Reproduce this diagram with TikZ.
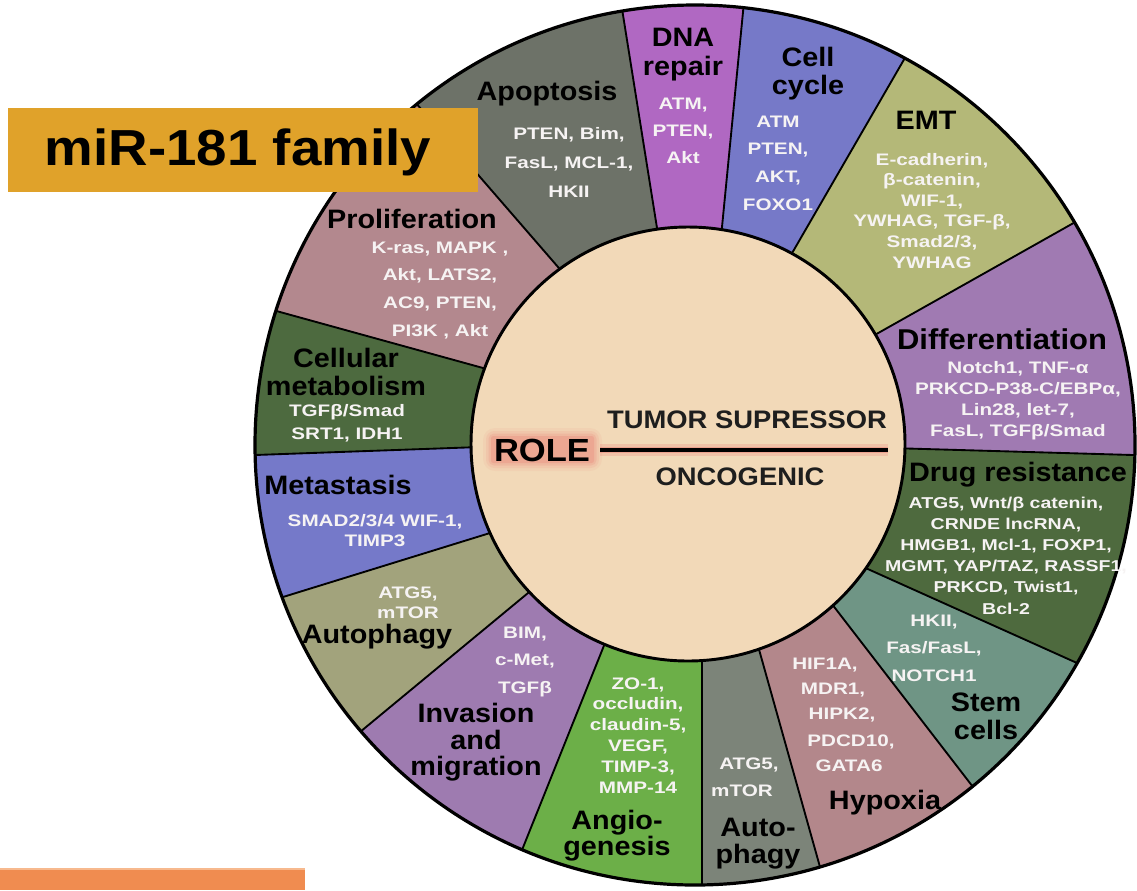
\documentclass[tikz,border=0pt]{standalone}
\usepackage{fontspec}
\setmainfont{Liberation Sans}
\newfontfamily\wf{Liberation Sans}[FakeStretch=1.24]
\newfontfamily\tf{Liberation Sans}[FakeStretch=1.08]
\usetikzlibrary{calc}
\definecolor{cApo}{HTML}{6D7268}
\definecolor{cDNA}{HTML}{B068C2}
\definecolor{cCell}{HTML}{7679C8}
\definecolor{cEMT}{HTML}{B4B878}
\definecolor{cDiff}{HTML}{A07AB2}
\definecolor{cDrug}{HTML}{4E6A3E}
\definecolor{cStem}{HTML}{6F9585}
\definecolor{cHyp}{HTML}{B3878B}
\definecolor{cAutB}{HTML}{7C8479}
\definecolor{cAng}{HTML}{6CAF48}
\definecolor{cInv}{HTML}{9E7BB0}
\definecolor{cAutL}{HTML}{A2A37C}
\definecolor{cMet}{HTML}{7579C9}
\definecolor{cCmet}{HTML}{4D6A3F}
\definecolor{cProl}{HTML}{B3888E}
\definecolor{cIn}{HTML}{F2D9B8}
\definecolor{cGold}{HTML}{E0A22A}
\definecolor{cOrange}{HTML}{F08C50}
\definecolor{cOrangeL}{HTML}{F7B98E}
\definecolor{glowred}{HTML}{E85A5A}
\definecolor{dark}{HTML}{1E1E1E}
\definecolor{gwhite}{HTML}{F6F3F3}
\newcommand\gfont{\wf\bfseries\fontsize{12.5}{14}\selectfont}
\newcommand\glines[6]{\foreach \gtext [count=\k from 0] in {#6}{\node[#2,anchor=base] (#1\k) at (#3,{#4+\k*#5}) {\gtext};}}
\newcommand\sect[3]{\fill[#1] (ci) -- ($(o#2)!1.08!(i#2)$) -- ($(i#2)!1.6!(o#2)$) -- ($(i#3)!1.6!(o#3)$) -- ($(o#3)!1.08!(i#3)$) -- cycle;}
\begin{document}
\begin{tikzpicture}[x=0.75pt,y=-0.75pt,
  gene/.style={text=gwhite, inner sep=0pt, font=\gfont},
  genesm/.style={text=gwhite, inner sep=0pt, font=\wf\bfseries\fontsize{11.8}{14}\selectfont},
  ttl/.style={text=black, inner sep=0pt, font=\tf\bfseries\fontsize{20}{24}\selectfont},
  ttlbig/.style={text=black, inner sep=0pt, font=\tf\bfseries\fontsize{21.5}{24}\selectfont},
  ctr/.style={text=dark, inner sep=0pt, font=\tf\bfseries\fontsize{19}{22}\selectfont},
  rolef/.style={inner sep=0pt, font=\tf\bfseries\fontsize{24}{28}\selectfont},
  bline/.style={black, line width=1.4pt}]
\fill[white] (0,0) rectangle (1137,890);
\useasboundingbox (0,0) rectangle (1137,890);
% geometry
\coordinate (C) at (695,445);
\coordinate (ci) at (688,444);
\coordinate (i1) at (657,228);  \coordinate (o1) at (623,15);
\coordinate (i2) at (722,227);  \coordinate (o2) at (743,12);
\coordinate (i3) at (795,248);  \coordinate (o3) at (902,63);
\coordinate (i4) at (880,332);  \coordinate (o4) at (1070,225);
\coordinate (i5) at (890,448);  \coordinate (o5) at (1133,455);
\coordinate (i6) at (870,570);  \coordinate (o6) at (1077,663);
\coordinate (i7) at (835,608);  \coordinate (o7) at (973,787);
\coordinate (i8) at (760,653);  \coordinate (o8) at (820,867);
\coordinate (i9) at (702,660);  \coordinate (o9) at (702,885);
\coordinate (i10) at (603,648); \coordinate (o10) at (522,850);
\coordinate (i11) at (528,593); \coordinate (o11) at (360,732);
\coordinate (i12) at (490,533); \coordinate (o12) at (283,597);
\coordinate (i13) at (480,447); \coordinate (o13) at (255,455);
\coordinate (i14) at (483,368); \coordinate (o14) at (280,312);
\coordinate (i15) at (558,267); \coordinate (o15) at (415,102);
\begin{scope}
  \clip (C) circle[radius=440];
  \sect{cDNA}{1}{2}
  \sect{cCell}{2}{3}
  \sect{cEMT}{3}{4}
  \sect{cDiff}{4}{5}
  \sect{cDrug}{5}{6}
  \sect{cStem}{6}{7}
  \sect{cHyp}{7}{8}
  \sect{cAutB}{8}{9}
  \sect{cAng}{9}{10}
  \sect{cInv}{10}{11}
  \sect{cAutL}{11}{12}
  \sect{cMet}{12}{13}
  \sect{cCmet}{13}{14}
  \sect{cProl}{14}{15}
  \sect{cApo}{15}{1}
  \foreach \n in {1,...,15}{\draw[bline] ($(o\n)!1.08!(i\n)$) -- ($(i\n)!1.3!(o\n)$);}
\end{scope}
\draw[black, line width=2.4pt] (C) circle[radius=440];
\filldraw[fill=cIn, draw=black, line width=2.2pt] (ci) circle[radius=217];
% centre: glow behind ROLE and the dividing line
\foreach \g/\o in {10/.06,7/.09,4.5/.13,2/.18}{
  \fill[glowred, opacity=\o, rounded corners=\g*0.9pt] ({493-\g},{438-\g}) rectangle ({592+\g},{461+\g});}
\coordinate (ls) at (600,450);
\coordinate (le) at (888,450);
\draw[glowred, opacity=.18, line width=9pt] (ls) -- (le);
\draw[glowred, opacity=.3, line width=5pt] (ls) -- (le);
\draw[black, line width=2.3pt] (ls) -- (le);
\node[rolef, text=black, anchor=base] (role) at (542,461) {ROLE};
\node[ctr, anchor=base] (tum) at (747,428) {TUMOR SUPRESSOR};
\node[ctr, anchor=base] (onc) at (740,485) {ONCOGENIC};
% sector titles
\glines{tApo}{ttl}{547}{100.5}{29}{Apoptosis}
\glines{tDNA}{ttl}{683}{46.5}{29}{DNA,repair}
\glines{tCell}{ttl}{808}{66.5}{28}{Cell,cycle}
\glines{tEMT}{ttl}{926}{129.5}{28}{EMT}
\glines{tDiff}{ttlbig}{1002}{349.5}{28}{Differentiation}
\glines{tDrug}{ttl}{1018}{481.5}{28}{Drug resistance}
\glines{tStem}{ttl}{986}{711.5}{28}{Stem,cells}
\glines{tHyp}{ttl}{885}{809.5}{28}{Hypoxia}
\glines{tAutB}{ttl}{758}{836}{27}{Auto-,phagy}
\glines{tAng}{ttl}{617}{829}{26.5}{Angio-,genesis}
\glines{tInv}{ttl}{476}{722.5}{26.5}{Invasion,and,migration}
\glines{tAutL}{ttl}{377}{643}{28}{Autophagy}
\glines{tMet}{ttl}{338}{494}{28}{Metastasis}
\glines{tCmet}{ttl}{346}{367}{28.5}{Cellular,metabolism}
\glines{tProl}{ttl}{412}{228}{28}{Proliferation}
% gene lists
\glines{gApo}{gene}{569}{139}{29}{{PTEN, Bim,},{FasL, MCL-1,},{HKII}}
\glines{gDNA}{gene}{683}{109}{27}{{ATM,},{PTEN,},{Akt}}
\glines{gCell}{gene}{778}{127}{27.7}{{ATM},{PTEN,},{AKT,},{FOXO1}}
\glines{gEMT}{gene}{932}{165}{20.6}{{E-cadherin,},{β-catenin,},{WIF-1,},{YWHAG, TGF-β,},{Smad2/3,},{YWHAG}}
\glines{gDiff}{gene}{1018}{373}{21}{{Notch1, TNF-α},{PRKCD-P38-C/EBPα,},{Lin28, let-7,},{FasL, TGFβ/Smad}}
\glines{gDrug}{genesm}{1006}{508}{21.2}{{ATG5, Wnt/β catenin,},{CRNDE lncRNA,},{HMGB1, Mcl-1, FOXP1,},{MGMT, YAP/TAZ, RASSF1,},{PRKCD, Twist1,},{Bcl-2}}
\glines{gStem}{gene}{934}{626}{27.5}{{HKII,},{Fas/FasL,},{NOTCH1}}
\node[gene, anchor=base] (gHyp0) at (825,669) {HIF1A,};
\node[gene, anchor=base] (gHyp1) at (833,694) {MDR1,};
\node[gene, anchor=base] (gHyp2) at (842,719) {HIPK2,};
\node[gene, anchor=base] (gHyp3) at (851,746) {PDCD10,};
\node[gene, anchor=base] (gHyp4) at (849,771) {GATA6};
\node[gene, anchor=base] (gAutB0) at (749,769) {ATG5,};
\node[gene, anchor=base] (gAutB1) at (742,796) {mTOR};
\glines{gAng}{gene}{638}{689}{20.8}{{ZO-1,},{occludin,},{claudin-5,},{VEGF,},{TIMP-3,},{MMP-14}}
\glines{gInv}{gene}{525}{638}{27.5}{{BIM,},{c-Met,},{TGFβ}}
\glines{gAutL}{gene}{408}{598}{20}{{ATG5,},{mTOR}}
\glines{gMet}{gene}{375}{526}{20}{{SMAD2/3/4 WIF-1,},{TIMP3}}
\glines{gCmet}{gene}{347}{416}{23}{{TGFβ/Smad},{SRT1, IDH1}}
\glines{gProl}{gene}{440}{253}{27.7}{{K-ras, MAPK ,},{Akt, LATS2,},{AC9, PTEN,},{PI3K , Akt}}
% title box and bar
\fill[cGold] (8,108) rectangle (478,192);
\node[inner sep=0pt, anchor=base, font=\tf\bfseries\fontsize{38}{42}\selectfont] (fam) at (238,165) {miR-181 family};
\fill[cOrange] (0,868) rectangle (305,890);
\fill[cOrangeL] (0,868) rectangle (305,869.5);
\end{tikzpicture}
\end{document}
